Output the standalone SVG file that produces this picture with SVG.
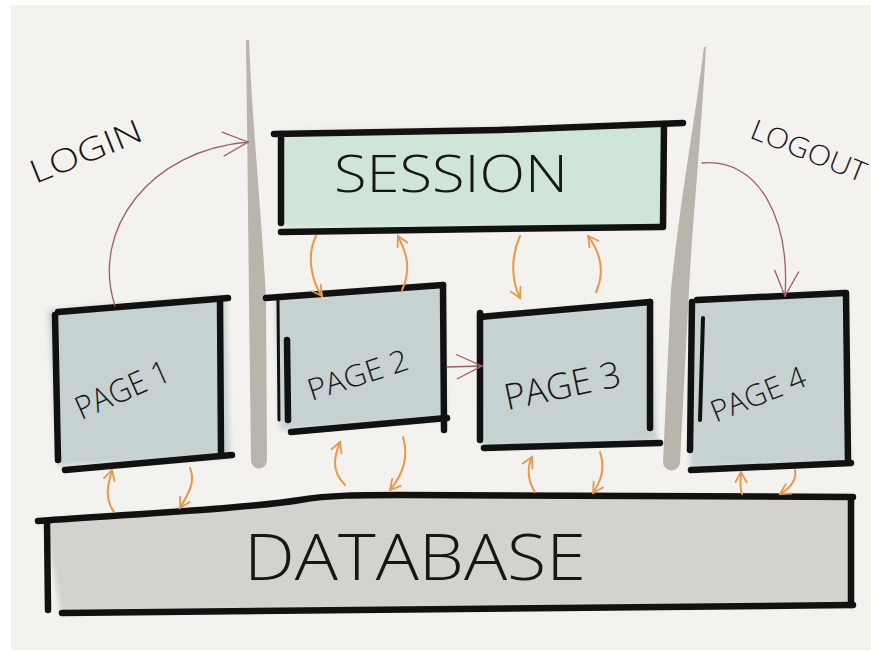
<svg xmlns="http://www.w3.org/2000/svg" width="871" height="653" viewBox="0 0 871 653">
<defs>
<style>
.ink{fill:none;stroke:#111;stroke-width:6.5;stroke-linecap:round;stroke-linejoin:round}
.pole{fill:#b9b5ad}
.page{fill:#c6d1d1}
.lbl{font-family:"Open Sans","Liberation Sans",Arial,sans-serif;font-weight:300;fill:#161616}
.or{fill:none;stroke:#e8984a;stroke-width:2;stroke-linecap:round}
.rd{fill:none;stroke:#a0605e;stroke-width:1.3;stroke-linecap:round}
</style>
<filter id="soft" x="-10%" y="-10%" width="120%" height="120%"><feGaussianBlur stdDeviation="2.5"/></filter>
<marker id="oa" viewBox="0 0 14 14" refX="11" refY="7" markerWidth="14" markerHeight="14" markerUnits="userSpaceOnUse" orient="auto"><path d="M1,1.5 L11,7 L1,12.5" fill="none" stroke="#e8984a" stroke-width="1.8" stroke-linecap="round"/></marker>
<marker id="ra" viewBox="0 0 30 30" refX="27" refY="15" markerWidth="30" markerHeight="30" markerUnits="userSpaceOnUse" orient="auto"><path d="M2,3 L27,15 L2,27" fill="none" stroke="#a0605e" stroke-width="1.3" stroke-linecap="round"/></marker>
</defs>
<rect width="871" height="653" fill="#ffffff"/>
<rect x="11" y="5" width="860" height="645" fill="#f3f2ee"/>

<g id="divider-left"><path class="pole" d="M246,40 L249,40 C252,120 262,220 266,300 L267,460 A8,8 0 0 1 251,461 L249,300 C248,200 247,120 246,40 Z"/></g>
<g id="divider-right"><path class="pole" d="M704,47 L706,47 C700,150 692,230 689,290 L680,462 A8,8 0 0 1 663,462 L671,290 C680,200 695,120 704,47 Z"/></g>

<g id="session">
<path d="M280,131 L664,124 L664,227 L281,228 Z" fill="#cfe5d7" filter="url(#soft)"/>
<path class="ink" d="M274,134 L500,130 L683,123"/>
<path class="ink" d="M281,134 L281,223"/>
<path class="ink" d="M664,124 L663,227"/>
<path class="ink" d="M281,232 L490,229 L661,227"/>
<text class="lbl" x="334" y="192" font-size="52" textLength="234" lengthAdjust="spacingAndGlyphs">SESSION</text>
</g>

<g id="page1">
<path class="page" d="M48,310 L226,296 L230,458 L58,466 Z" filter="url(#soft)"/>
<path class="ink" d="M58,312 L228,298"/>
<path class="ink" d="M55,315 L58,460"/>
<path class="ink" d="M220,300 L221,453"/>
<path class="ink" d="M65,470 L232,455"/>
<text class="lbl" x="127" y="400" font-size="32" text-anchor="middle" textLength="100" lengthAdjust="spacingAndGlyphs" transform="rotate(-24 127 400)">PAGE 1</text>
</g>

<g id="page2">
<path class="page" d="M275,298 L443,286 L446,420 L280,430 Z" filter="url(#soft)"/>
<path class="ink" d="M266,298 L443,285"/>
<path class="ink" d="M287,340 L288,420"/>
<path class="ink" d="M278,300 L279,420" style="stroke-width:3"/>
<path class="ink" d="M443,285 L444,430"/>
<path class="ink" d="M291,432 L447,418"/>
<text class="lbl" x="361" y="385" font-size="30" text-anchor="middle" textLength="104" lengthAdjust="spacingAndGlyphs" transform="rotate(-18 361 385)">PAGE 2</text>
</g>

<g id="page3">
<path class="page" d="M478,318 L652,303 L657,442 L482,448 Z" filter="url(#soft)"/>
<path class="ink" d="M480,317 L650,302"/>
<path class="ink" d="M480,313 L480,440"/>
<path class="ink" d="M650,302 L650,428"/>
<path class="ink" d="M484,448 L660,443"/>
<text class="lbl" x="565" y="398" font-size="36" text-anchor="middle" textLength="118" lengthAdjust="spacingAndGlyphs" transform="rotate(-12 565 398)">PAGE 3</text>
</g>

<g id="page4">
<path class="page" d="M692,300 L846,292 L850,462 L690,468 Z" filter="url(#soft)"/>
<path class="ink" d="M697,300 L845,293"/>
<path class="ink" d="M692,302 L690,450"/>
<path class="ink" d="M703,318 L700,420" style="stroke-width:4"/>
<path class="ink" d="M846,293 L848,462"/>
<path class="ink" d="M691,470 L851,463"/>
<text class="lbl" x="762" y="404" font-size="30" text-anchor="middle" textLength="100" lengthAdjust="spacingAndGlyphs" transform="rotate(-22 762 404)">PAGE 4</text>
</g>

<g id="database">
<path d="M45,520 C150,513 250,508 300,500 C330,495 360,495 400,495 L852,497 L852,605 L60,612 Z" fill="#d3d2ce" filter="url(#soft)"/>
<path class="ink" d="M38,521 C150,513 250,508 300,500 C330,495 360,495 400,495 L853,497"/>
<path class="ink" d="M47,522 L48,610"/>
<path class="ink" d="M851,498 L851,605"/>
<path class="ink" d="M62,613 L853,605"/>
<text class="lbl" x="244" y="580" font-size="64" textLength="342" lengthAdjust="spacingAndGlyphs">DATABASE</text>
</g>

<g id="label-login"><text class="lbl" x="90" y="162" font-size="32" text-anchor="middle" textLength="118" lengthAdjust="spacingAndGlyphs" transform="rotate(-22 90 162)">LOGIN</text></g>
<g id="label-logout"><text class="lbl" x="805" y="160" font-size="28" text-anchor="middle" textLength="122" lengthAdjust="spacingAndGlyphs" transform="rotate(22 805 160)">LOGOUT</text></g>

<g id="connectors">
<path class="rd" marker-end="url(#ra)" d="M115,306 C90,230 150,150 248,142"/>
<path class="rd" marker-end="url(#ra)" d="M702,163 C760,158 790,220 785,296"/>
<path class="rd" marker-end="url(#ra)" d="M447,367 L482,366"/>
<path class="or" marker-end="url(#oa)" d="M316,236 C306,256 312,282 322,296"/>
<path class="or" marker-end="url(#oa)" d="M402,290 C412,268 406,252 398,236"/>
<path class="or" marker-end="url(#oa)" d="M520,236 C510,258 512,282 520,298"/>
<path class="or" marker-end="url(#oa)" d="M596,292 C606,270 600,252 588,236"/>
<path class="or" marker-end="url(#oa)" d="M114,512 C104,498 108,484 112,470"/>
<path class="or" marker-end="url(#oa)" d="M190,468 C196,482 188,494 180,508"/>
<path class="or" marker-end="url(#oa)" d="M345,485 C330,470 335,455 340,442"/>
<path class="or" marker-end="url(#oa)" d="M403,437 C410,460 400,478 390,490"/>
<path class="or" marker-end="url(#oa)" d="M535,492 C526,478 528,465 532,457"/>
<path class="or" marker-end="url(#oa)" d="M600,452 C606,470 600,482 593,493"/>
<path class="or" marker-end="url(#oa)" d="M742,494 C739,486 741,479 741,472"/>
<path class="or" marker-end="url(#oa)" d="M795,470 C797,480 790,488 780,494"/>
</g>
</svg>
